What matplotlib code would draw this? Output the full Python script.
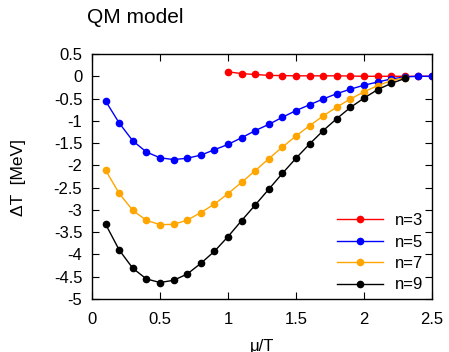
import matplotlib
matplotlib.use("Agg")
import matplotlib.pyplot as plt
import numpy as np

plt.rcParams['font.family'] = ['Liberation Sans', 'DejaVu Sans']

x_n3 = [1.0, 1.1, 1.2, 1.3, 1.4, 1.5, 1.6, 1.7, 1.8, 1.9, 2.0, 2.1, 2.2, 2.3, 2.4, 2.5]
y_n3 = [0.10, 0.06, 0.04, 0.02, 0.015, 0.01, 0.01, 0.01, 0.01, 0.005, 0.0, 0.0, 0.0, 0.0, 0.0, 0.0]

x_n5 = [0.1, 0.2, 0.3, 0.4, 0.5, 0.6, 0.7, 0.8, 0.9, 1.0, 1.1, 1.2, 1.3, 1.4, 1.5,
        1.6, 1.7, 1.8, 1.9, 2.0, 2.1, 2.2, 2.3, 2.4, 2.5]
y_n5 = [-0.555, -1.05, -1.45, -1.70, -1.83, -1.87, -1.84, -1.77, -1.65, -1.53, -1.38,
        -1.22, -1.08, -0.92, -0.77, -0.64, -0.51, -0.39, -0.29, -0.20, -0.13, -0.06,
        -0.015, 0.0, 0.0]

x_n7 = [0.1, 0.2, 0.3, 0.4, 0.5, 0.6, 0.7, 0.8, 0.9, 1.0, 1.1, 1.2, 1.3, 1.4, 1.5,
        1.6, 1.7, 1.8, 1.9, 2.0, 2.1, 2.2, 2.3]
y_n7 = [-2.11, -2.63, -3.01, -3.235, -3.33, -3.325, -3.23, -3.06, -2.87, -2.635, -2.38,
        -2.12, -1.85, -1.59, -1.34, -1.11, -0.89, -0.69, -0.51, -0.35, -0.21, -0.10, -0.03]

x_n9 = [0.1, 0.2, 0.3, 0.4, 0.5, 0.6, 0.7, 0.8, 0.9, 1.0, 1.1, 1.2, 1.3, 1.4, 1.5,
        1.6, 1.7, 1.8, 1.9, 2.0, 2.1, 2.2, 2.3]
y_n9 = [-3.32, -3.90, -4.31, -4.55, -4.63, -4.58, -4.44, -4.20, -3.93, -3.60, -3.24,
        -2.89, -2.535, -2.18, -1.84, -1.52, -1.22, -0.95, -0.70, -0.49, -0.30, -0.16, -0.05]

labels = ['n=3', 'n=5', 'n=7', 'n=9']
colors = ['#ff0000', '#0000ff', '#ffa500', '#000000']

fig = plt.figure(figsize=(4.49, 3.52), dpi=100)
ax = fig.add_axes([92/449, 53/352, 340/449, 245/352])

for xs, ys, lab, c in zip([x_n3, x_n5, x_n7, x_n9], [y_n3, y_n5, y_n7, y_n9], labels, colors):
    ax.plot(xs, ys, '-o', color=c, lw=1.0, ms=4.5, label=lab)

ax.set_xlim(0, 2.5)
ax.set_ylim(-5, 0.5)
ax.set_xticks(np.arange(0, 2.51, 0.5))
ax.set_xticklabels(['0', '0.5', '1', '1.5', '2', '2.5'])
yt = np.arange(-5, 0.51, 0.5)
ax.set_yticks(yt)
ax.set_yticklabels([('%g' % v) for v in yt])
ax.tick_params(direction='in', top=True, right=True, labelsize=12, length=5)
ax.tick_params(axis='y', pad=7)
ax.tick_params(axis='x', pad=9)
for s in ax.spines.values():
    s.set_linewidth(1.0)

fig.text(262/449, 1 - 346/352, 'μ/T', fontsize=12, ha='center', va='center')
fig.text(19/449, 1 - 177/352, 'ΔT  [MeV]', fontsize=12.5, ha='center', va='center',
         rotation=90)
fig.text(87/449, 1 - 17.5/352, 'QM model', fontsize=15, ha='left', va='center')

leg = ax.legend(loc='lower right', frameon=False, fontsize=12, handlelength=2.75,
                handletextpad=0.75, labelspacing=0.38, borderaxespad=0.0,
                bbox_to_anchor=(0.995, 0.0))

fig.savefig('out.png', dpi=100)
